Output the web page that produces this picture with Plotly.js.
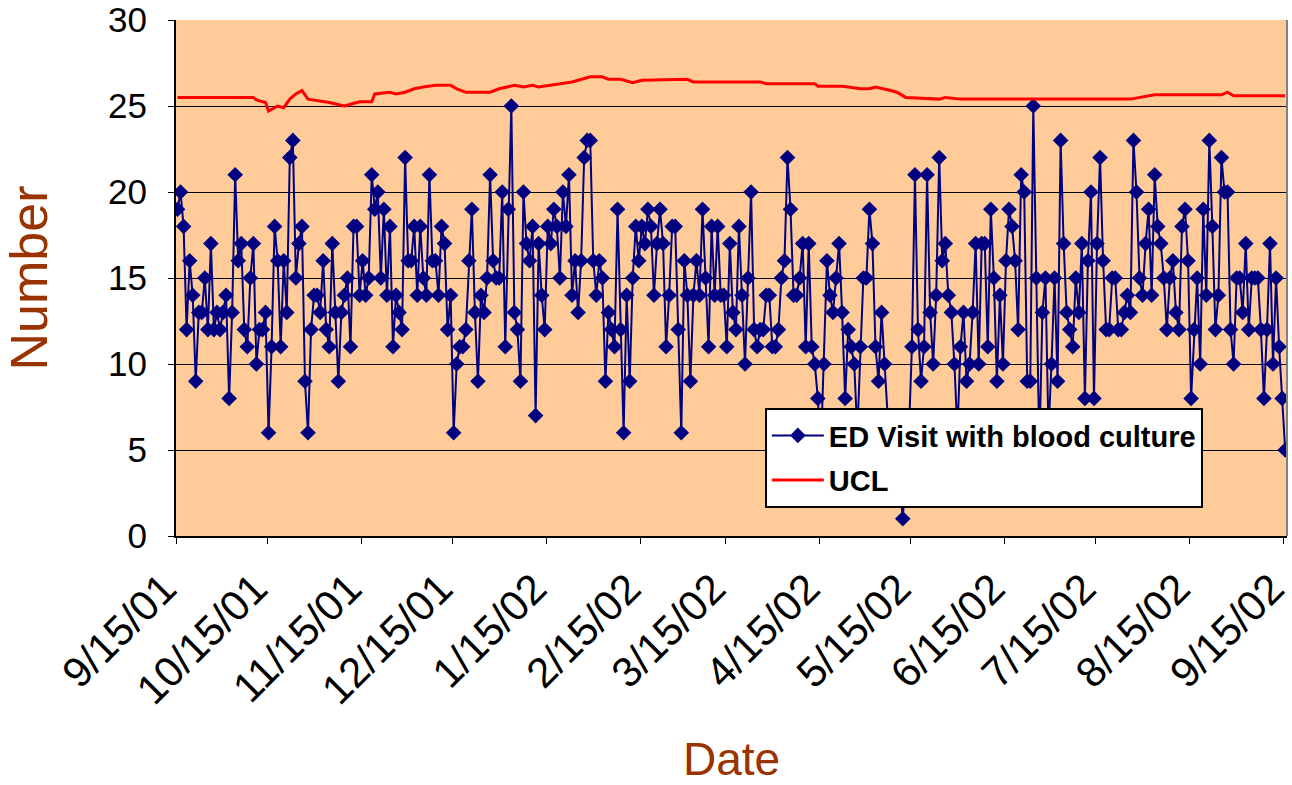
<!DOCTYPE html>
<html>
<head>
<meta charset="utf-8">
<script src="https://cdn.plot.ly/plotly-3.0.1.min.js"></script>
<style>html,body{margin:0;padding:0;background:#fff;}#chart{width:1292px;height:785px;}</style>
</head>
<body>
<div id="chart"></div>
<script>
// ---- data ----
const startDate = '2001-09-15';
const seriesName = 'ED Visit with blood culture';
const uclName = 'UCL';
// daily counts, 9/15/01 .. 9/15/02 (values hidden behind the legend are estimates)
const edVisits = [
  19,20,18,12,16,14,9,13,13,15,12,17,12,13,12,13,14,8,13,21,16,17,12,11,15,17,10,12,12,13,6,
  11,18,16,11,16,13,22,23,15,17,18,9,6,12,14,14,13,16,12,11,17,13,9,13,14,15,11,18,18,14,16,
  14,15,21,19,20,15,19,14,18,11,14,13,12,22,16,16,18,14,18,15,14,21,16,16,14,18,17,12,14,6,10,
  11,11,12,16,19,13,9,14,13,15,21,16,15,15,20,11,19,25,13,12,9,20,17,16,18,7,17,14,12,18,17,19,
  18,15,20,18,21,14,16,13,16,22,23,23,16,14,16,15,9,13,12,11,19,12,6,14,9,15,18,16,18,17,19,
  18,14,17,19,17,11,14,18,18,12,6,16,14,9,14,16,14,19,15,11,18,14,18,14,14,11,17,13,12,
  18,14,10,15,20,12,11,12,12,14,14,11,11,12,15,16,22,19,14,14,15,17,11,17,11,10,8,5,10,16,14,13,15,17,
  13,8,12,11,10,6,11,15,15,19,17,11,9,13,10,7,5,4,6,3,1,4,6,11,
  21,12,9,11,21,13,10,14,22,16,17,14,13,10,6,11,13,9,10,13,17,10,17,17,11,19,15,9,14,10,16,19,18,16,12,21,20,9,9,25,
  15,5,13,15,6,10,15,9,23,17,13,12,11,15,13,17,8,16,20,8,17,22,16,12,12,15,15,12,12,13,14,13,
  23,20,15,14,17,19,14,21,18,17,15,12,15,16,13,12,18,19,16,8,12,15,10,19,14,23,18,12,14,22,20,20,12,10,15,15,13,17,12,15,15,15,12,8,12,17,10,15,11,8,5
];
// UCL read at sample days (day offset from start date)
const uclDays = [0,25,26,29,30,31,33,35,37,39,41,43,47,50,55,60,64,65,70,72,75,78,81,85,90,92,95,103,106,111,114,117,119,123,127,130,136,140,142,146,150,153,168,170,187,192,194,210,211,219,221,225,228,230,235,237,240,246,251,253,258,314,322,344,346,348,365];
const uclValues = [25.5,25.5,25.35,25.2,24.7,24.8,25.0,24.9,25.4,25.7,25.9,25.4,25.3,25.2,25.0,25.25,25.25,25.7,25.8,25.7,25.8,26.0,26.1,26.2,26.2,26.0,25.8,25.8,26.0,26.2,26.1,26.2,26.1,26.2,26.3,26.4,26.7,26.7,26.55,26.55,26.35,26.5,26.55,26.4,26.4,26.4,26.3,26.3,26.15,26.15,26.1,26.0,26.0,26.1,25.9,25.8,25.5,25.45,25.4,25.5,25.4,25.4,25.65,25.65,25.8,25.6,25.6];
const tickDates = ['2001-09-15','2001-10-15','2001-11-15','2001-12-15','2002-01-15','2002-02-15','2002-03-15','2002-04-15','2002-05-15','2002-06-15','2002-07-15','2002-08-15','2002-09-15'];
const tickLabels = ['9/15/01','10/15/01','11/15/01','12/15/01','1/15/02','2/15/02','3/15/02','4/15/02','5/15/02','6/15/02','7/15/02','8/15/02','9/15/02'];

// ---- build ----
const DAY = 86400000;
const t0 = Date.parse(startDate + 'T00:00:00Z');
// each daily count is plotted at midday of its date
function dayToDate(d){ return new Date(t0 + d*DAY + DAY/2).toISOString().slice(0,19).replace('T',' '); }
const visitDates = edVisits.map((v,i)=>dayToDate(i));
const uclDates = uclDays.map(dayToDate);
const rangeEnd = new Date(t0 + 366.1*DAY).toISOString().slice(0,19).replace('T',' ');

const FONT = 'Arial, "Liberation Sans", sans-serif';
const traces = [
  {x: visitDates, y: edVisits, name: seriesName, legendgroup:'a', type:'scatter', mode:'lines+markers',
   line:{color:'#000080', width:2}, marker:{symbol:'diamond', size:12, color:'#000080'}},
  {x: uclDates, y: uclValues, name: uclName, legendgroup:'b', type:'scatter', mode:'lines',
   line:{color:'#FF0000', width:3}}
];
const layout = {
  width:1292, height:785,
  margin:{l:176, r:5, t:20, b:249, pad:0},
  paper_bgcolor:'#ffffff', plot_bgcolor:'#FFCC99',
  font:{family:FONT, color:'#000'},
  showlegend:true,
  legend:{x:0.530, y:0.248, xanchor:'left', yanchor:'top', bgcolor:'#ffffff', bordercolor:'#000', borderwidth:2,
          font:{family:FONT, size:29, color:'#000', weight:'bold'}, itemwidth:52,
          traceorder:'grouped', tracegroupgap:4},
  xaxis:{type:'date', range:[startDate + ' 00:00:00', rangeEnd], tickmode:'array', tickvals:tickDates, ticktext:tickLabels,
         tickangle:-45, ticks:'outside', ticklen:6, tickwidth:1, tickcolor:'#000', ticklabeloverflow:'allow',
         ticklabelshift:-12, ticklabelstandoff:3,
         showline:true, linecolor:'#000', linewidth:2, showgrid:false, zeroline:false,
         tickfont:{family:FONT, size:42, color:'#000'},
         title:{text:'Date', font:{family:FONT, size:46, color:'#993300'}, standoff:43}},
  yaxis:{range:[0,30], tickmode:'array', tickvals:[0,5,10,15,20,25,30], ticks:'outside', ticklen:6, tickcolor:'#000',
         showline:true, linecolor:'#000', linewidth:2, showgrid:true, gridcolor:'#000', gridwidth:1, zeroline:false,
         ticklabelstandoff:14,
         tickfont:{family:FONT, size:35, color:'#000'},
         title:{text:'Number', font:{family:FONT, size:52, color:'#993300'}, standoff:46}},
  shapes:[{type:'line', xref:'paper', yref:'paper', x0:1, x1:1, y0:0, y1:1, line:{color:'#808080', width:2}}]
};
Plotly.newPlot('chart', traces, layout, {staticPlot:true, displayModeBar:false});
</script>
</body>
</html>
